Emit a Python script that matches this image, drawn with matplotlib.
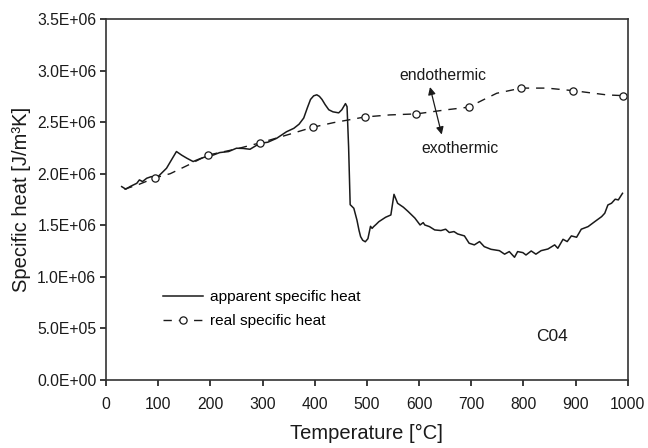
import numpy as np
import matplotlib
matplotlib.use('Agg')
import matplotlib.pyplot as plt
from matplotlib.ticker import FuncFormatter

plt.rcParams['font.family'] = ['Liberation Sans', 'DejaVu Sans']

# apparent specific heat [degC], [1e6 J/m3K]
t_app = [30, 38, 46, 52, 59, 64, 70, 78, 87, 96, 103, 116, 125, 135, 145,
         155, 167, 180, 192, 205, 218, 235, 250, 263, 276, 295, 310, 327, 346,
         360, 370, 379, 386, 392, 398, 404, 409, 414, 420, 427, 435, 446, 452,
         459, 462, 465, 468, 475, 481, 485, 488, 492, 497, 502, 507, 510, 513,
         518, 523, 536, 546, 552, 559, 570, 579, 592, 602, 608, 611, 620, 630,
         642, 651, 658, 667, 674, 687, 696, 706, 716, 725, 738, 754, 764, 773,
         783, 789, 799, 805, 815, 824, 834, 847, 860, 866, 876, 884, 892, 902,
         911, 924, 937, 950, 956, 962, 969, 976, 982, 990]
cp_app = [1.875, 1.85, 1.875, 1.89, 1.907, 1.94, 1.924, 1.956, 1.972, 1.956,
          1.988, 2.053, 2.13, 2.215, 2.18, 2.15, 2.118, 2.145, 2.166, 2.18,
          2.205, 2.215, 2.247, 2.245, 2.237, 2.295, 2.305, 2.343, 2.407, 2.44,
          2.48, 2.54, 2.64, 2.72, 2.755, 2.765, 2.75, 2.72, 2.67, 2.62, 2.60,
          2.59, 2.62, 2.68, 2.65, 2.26, 1.70, 1.665, 1.55, 1.45, 1.39, 1.355,
          1.34, 1.37, 1.49, 1.47, 1.487, 1.51, 1.535, 1.578, 1.60, 1.80, 1.713,
          1.675, 1.634, 1.57, 1.503, 1.526, 1.503, 1.487, 1.455, 1.449, 1.462,
          1.43, 1.439, 1.416, 1.397, 1.326, 1.31, 1.342, 1.293, 1.267, 1.254,
          1.22, 1.245, 1.19, 1.245, 1.235, 1.212, 1.251, 1.22, 1.254, 1.27,
          1.31, 1.277, 1.364, 1.342, 1.397, 1.384, 1.462, 1.487, 1.536, 1.584,
          1.617, 1.697, 1.714, 1.753, 1.746, 1.81]

# real specific heat (dashed curve), markers only at the measured points
t_real = [35, 60, 94, 123, 158, 195, 250, 296, 350, 396, 436, 496, 544, 595,
          653, 695, 723, 749, 796, 845, 896, 960, 991]
cp_real = [1.85, 1.89, 1.96, 2.00, 2.085, 2.18, 2.24, 2.30, 2.38, 2.45, 2.495,
           2.55, 2.57, 2.58, 2.62, 2.645, 2.716, 2.78, 2.83, 2.83, 2.805,
           2.764, 2.757]
marked = [2, 5, 7, 9, 11, 13, 15, 18, 20, 22]

x_ticks = np.arange(0, 1001, 100)
y_ticks = np.arange(0, 3.51e6, 0.5e6)

col = '#1a1a1a'

fig = plt.figure(figsize=(6.48, 4.48), dpi=100)
ax = fig.add_axes([0.1636, 0.1518, 0.8051, 0.8058])

ax.plot(t_app, np.array(cp_app) * 1e6, '-', color=col, lw=1.1,
        label='apparent specific heat')
ax.plot(t_real, np.array(cp_real) * 1e6, color=col, lw=1.0, dashes=(6, 5),
        marker='o', markevery=marked, ms=5.2, mfc='white', mec=col, mew=0.9,
        label='real specific heat')

ax.set_xlim(0, 1000)
ax.set_ylim(0, 3.5e6)
ax.set_xticks(x_ticks)
ax.set_yticks(y_ticks)
ax.yaxis.set_major_formatter(FuncFormatter(lambda v, p: '%.1E' % v))
ax.tick_params(direction='out', length=4, width=1.2, color=col,
               labelsize=11.3, labelcolor=col)
ax.tick_params(axis='x', pad=8)
ax.tick_params(axis='y', pad=3)
for s in ax.spines.values():
    s.set_linewidth(1.2)
    s.set_color('#333333')

ax.set_xlabel('Temperature [°C]', fontsize=14.5, color=col, labelpad=9)
ax.set_ylabel('Specific heat [J/m³K]', fontsize=14.5, color=col, labelpad=4)

# endothermic / exothermic hint
ax.annotate('', xy=(621, 2.84e6), xytext=(643.5, 2.38e6),
            arrowprops=dict(arrowstyle='<|-|>', color=col, lw=0.9,
                            mutation_scale=11, shrinkA=0, shrinkB=0))
ax.text(645, 2.95e6, 'endothermic', ha='center', va='center', fontsize=11.3,
        color=col)
ax.text(679, 2.247e6, 'exothermic', ha='center', va='center', fontsize=11.3,
        color=col)
ax.text(854, 0.42e6, 'C04', ha='center', va='center', fontsize=12.5,
        color=col)

ax.legend(loc='upper left', bbox_to_anchor=(0.095, 0.27), frameon=False,
          fontsize=11.1, handlelength=2.6, handletextpad=0.4,
          labelspacing=0.65, borderpad=0, numpoints=1)

fig.savefig('out.png', dpi=100)
